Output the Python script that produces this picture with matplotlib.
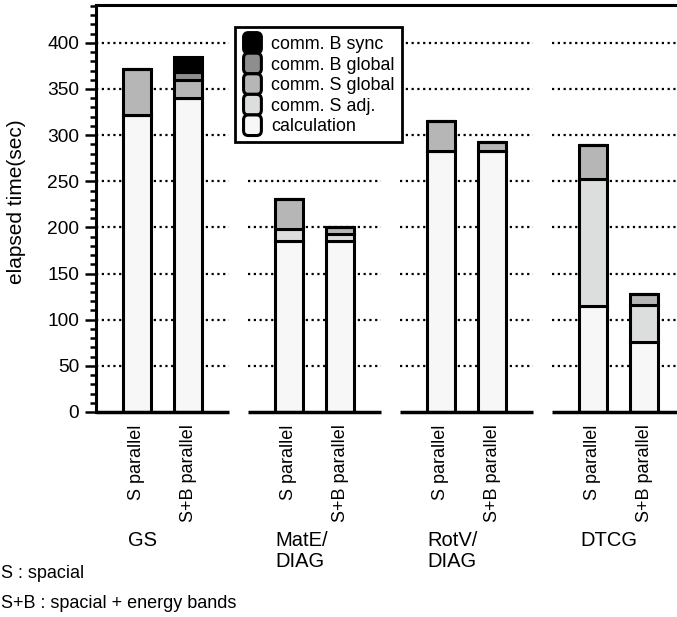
import matplotlib.pyplot as plt
import numpy as np
from matplotlib.patches import FancyBboxPatch
from matplotlib.legend_handler import HandlerBase
from matplotlib.ticker import MultipleLocator

plt.rcParams['font.family'] = ['Liberation Sans', 'DejaVu Sans']

# data (seconds)
groups = ['GS', 'MatE/\nDIAG', 'RotV/\nDIAG', 'DTCG']
variants = ['S parallel', 'S+B parallel']
calc     = [322, 340, 185, 185, 283, 283, 115, 76]
s_adj    = [0,   0,   13,  8,   0,   0,   137, 40]
s_global = [50,  20,  33,  7,   32,  10,  37,  12]
b_global = [0,   8,   0,   0,   0,   0,   0,   0]
b_sync   = [0,   17,  0,   0,   0,   0,   0,   0]

series = [
    ('calculation', calc, '#f7f7f7'),
    ('comm. S adj.', s_adj, '#dcdedd'),
    ('comm. S global', s_global, '#b6b6b6'),
    ('comm. B global', b_global, '#8e8e8e'),
    ('comm. B sync', b_sync, '#000000'),
]


class RoundBoxHandler(HandlerBase):
    def create_artists(self, legend, orig, xdescent, ydescent, width, height, fontsize, trans):
        h = height * 1.18
        p = FancyBboxPatch((-xdescent + 1, -ydescent - (h - height) / 2), width - 2, h,
                           boxstyle='round,pad=0,rounding_size=3.5',
                           facecolor=orig.get_facecolor(), edgecolor='black', lw=2.2,
                           transform=trans)
        return [p]


fig = plt.figure(figsize=(6.77, 6.17), dpi=100)
ax = fig.add_axes([96 / 677, 1 - 412 / 617, 581 / 677, 407 / 617])

offset = 0.17
width = 0.185
half_seg = 0.44
centers = np.arange(len(groups))
xpos = np.ravel([[c - offset, c + offset] for c in centers])

# segmented dotted grid and baseline
for c in centers:
    ax.hlines(np.arange(50, 401, 50), c - half_seg, c + half_seg, colors='black',
              linestyles=(0, (1, 1.6)), lw=1.6, zorder=0)
    ax.hlines(0, c - half_seg, c + half_seg, colors='black', lw=2.5, zorder=3, clip_on=False)

bottom = np.zeros(len(xpos))
handles = []
for name, vals, col in series:
    vals = np.array(vals, dtype=float)
    b = ax.bar(xpos, vals, width, bottom=bottom, color=col, edgecolor='black',
               linewidth=2.2, zorder=2, label=name)
    bottom += vals
    handles.append(b.patches[0])

ax.set_xlim(-0.437, 3.385)
ax.set_ylim(0, 441)
ax.set_xticks(xpos)
ax.set_xticklabels(variants * len(groups), rotation=90, fontsize=13)
ax.tick_params(axis='x', length=0, pad=9)
ax.yaxis.set_major_locator(MultipleLocator(50))
ax.yaxis.set_minor_locator(MultipleLocator(10))
ax.tick_params(axis='y', which='major', length=8, width=1.8, labelsize=13.8, pad=4)
ax.tick_params(axis='y', which='minor', length=4, width=1.8)
for s in ['bottom', 'right']:
    ax.spines[s].set_visible(False)
ax.spines['left'].set_linewidth(2.2)
ax.spines['top'].set_linewidth(2.2)

leg = ax.legend(handles[::-1], [s[0] for s in series][::-1],
                handler_map={h: RoundBoxHandler() for h in handles},
                loc='upper left', bbox_to_anchor=((235 - 96) / 581, (412 - 27) / 407),
                borderaxespad=0, fontsize=12.9, handlelength=1.15, handleheight=1.12,
                handletextpad=0.45, labelspacing=0.1, borderpad=0.4,
                frameon=True, fancybox=False, framealpha=1, edgecolor='black')
leg.get_frame().set_linewidth(2.0)
leg.set_zorder(5)

# group labels under the tick labels
group_x = [128, 275, 427, 580]
for gx, g in zip(group_x, groups):
    fig.text(gx / 677, 1 - 531 / 617, g, ha='left', va='top', fontsize=14.5, linespacing=1.15)

fig.text(17 / 677, 1 - 202 / 617, 'elapsed time(sec)', rotation=90, ha='center',
         va='center', fontsize=15)
fig.text(1 / 677, 1 - 573 / 617, 'S : spacial', ha='left', va='center', fontsize=13)
fig.text(1 / 677, 1 - 603 / 617, 'S+B : spacial + energy bands', ha='left', va='center',
         fontsize=13)

fig.savefig('out.png', dpi=100)
